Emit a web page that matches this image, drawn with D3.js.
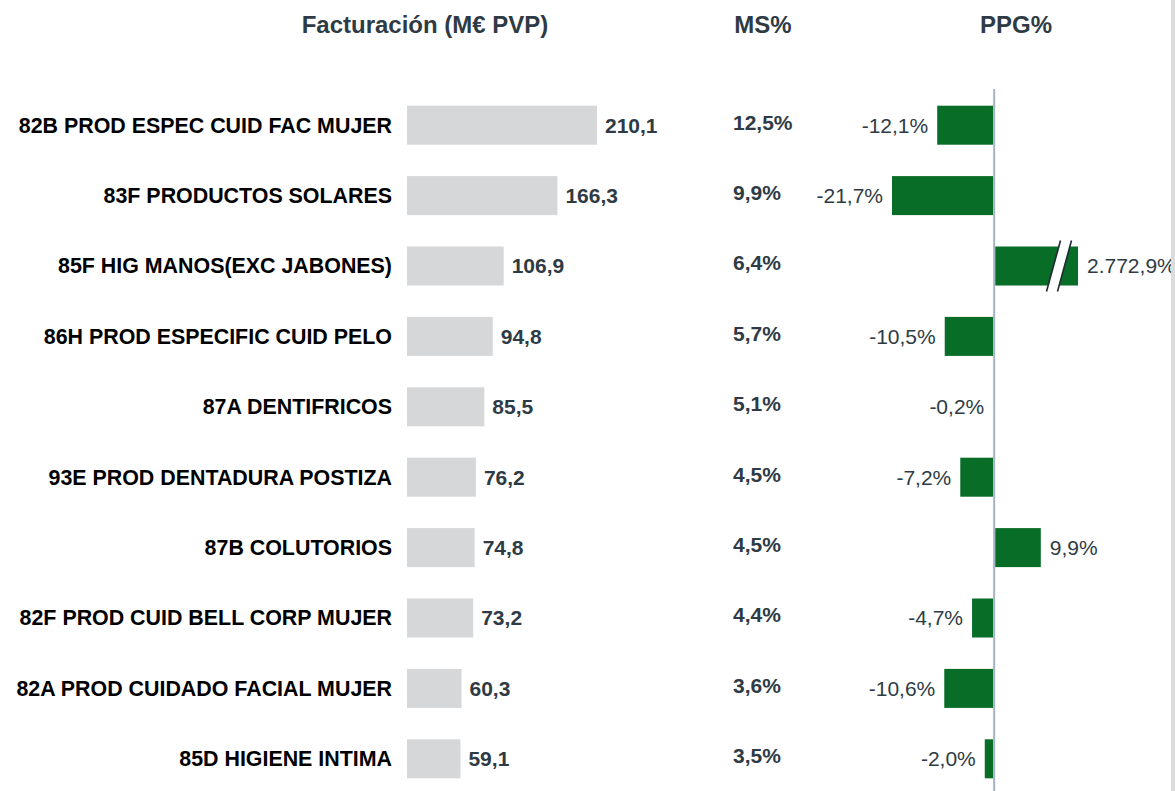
<!DOCTYPE html>
<html>
<head>
<meta charset="utf-8">
<script src="https://cdn.jsdelivr.net/npm/d3@7/dist/d3.min.js"></script>
<style>
  html, body { margin: 0; padding: 0; background: #fff; }
  svg { display: block; }
  text { font-family: "Liberation Sans", Arial, sans-serif; }
</style>
</head>
<body>
<svg id="chart" width="1175" height="791"></svg>
<script>
// Top categories: turnover (M€ PVP), market share and growth vs previous period
const categories = [
  "82B PROD ESPEC CUID FAC MUJER",
  "83F PRODUCTOS SOLARES",
  "85F HIG MANOS(EXC JABONES)",
  "86H PROD ESPECIFIC CUID PELO",
  "87A DENTIFRICOS",
  "93E PROD DENTADURA POSTIZA",
  "87B COLUTORIOS",
  "82F PROD CUID BELL CORP MUJER",
  "82A PROD CUIDADO FACIAL MUJER",
  "85D HIGIENE INTIMA"
];
const facturacion = [210.1, 166.3, 106.9, 94.8, 85.5, 76.2, 74.8, 73.2, 60.3, 59.1];
const msShare = [12.5, 9.9, 6.4, 5.7, 5.1, 4.5, 4.5, 4.4, 3.6, 3.5];
const ppg = [-12.1, -21.7, 2772.9, -10.5, -0.2, -7.2, 9.9, -4.7, -10.6, -2.0];
const headers = ["Facturación (M€ PVP)", "MS%", "PPG%"];

// Growth bars beyond this value are cut and drawn with a break mark
const ppgCap = 17.8;

const locale = d3.formatLocale({ decimal: ",", thousands: ".", grouping: [3], currency: ["", "€"], minus: "-" });
const fmt1 = locale.format(",.1f");
const pct = v => fmt1(v) + "%";

const svg = d3.select("#chart");
const textDark = "#2e3b45";

// Row layout
const y = d3.scaleBand()
  .domain(categories)
  .range([90, 794])
  .paddingInner(0.446)
  .paddingOuter(0.223);
const bh = y.bandwidth();
const cy = c => y(c) + bh / 2;

// Turnover scale
const xF = d3.scaleLinear().domain([0, d3.max(facturacion)]).range([407, 597]);

// Growth scale (clamped: the outlier is drawn as a broken bar)
const xP = d3.scaleLinear().domain([d3.min(ppg), ppgCap]).range([892, 1078]).clamp(true);

// Column headers
svg.selectAll("text.header")
  .data(headers)
  .join("text")
  .attr("class", "header")
  .attr("x", (d, i) => [425, 763, 1016][i])
  .attr("y", 33)
  .attr("text-anchor", "middle")
  .attr("font-size", 24)
  .attr("font-weight", "bold")
  .attr("fill", textDark)
  .text(d => d);

// Category names
svg.selectAll("text.cat")
  .data(categories)
  .join("text")
  .attr("class", "cat")
  .attr("x", 392)
  .attr("y", d => cy(d))
  .attr("dy", "0.35em")
  .attr("text-anchor", "end")
  .attr("font-size", 21.4)
  .attr("font-weight", "bold")
  .attr("fill", "#000")
  .text(d => d);

// Turnover bars and values
svg.selectAll("rect.fact")
  .data(facturacion)
  .join("rect")
  .attr("class", "fact")
  .attr("x", xF(0))
  .attr("y", (d, i) => y(categories[i]))
  .attr("width", d => xF(d) - xF(0))
  .attr("height", bh)
  .attr("fill", "#d6d7d9");

svg.selectAll("text.fact")
  .data(facturacion)
  .join("text")
  .attr("class", "fact")
  .attr("x", d => xF(d) + 8)
  .attr("y", (d, i) => cy(categories[i]))
  .attr("dy", "0.35em")
  .attr("font-size", 21)
  .attr("font-weight", "bold")
  .attr("fill", textDark)
  .text(d => fmt1(d));

// Market share column
svg.selectAll("text.ms")
  .data(msShare)
  .join("text")
  .attr("class", "ms")
  .attr("x", 733)
  .attr("y", (d, i) => cy(categories[i]) - 3)
  .attr("dy", "0.35em")
  .attr("font-size", 21)
  .attr("font-weight", "bold")
  .attr("fill", textDark)
  .text(d => pct(d));

// Growth bars
const x0 = xP(0);
svg.selectAll("rect.ppg")
  .data(ppg)
  .join("rect")
  .attr("class", "ppg")
  .attr("x", d => d < 0 ? xP(d) : x0 + 1)
  .attr("y", (d, i) => y(categories[i]))
  .attr("width", d => d < 0 ? x0 - 1 - xP(d) : xP(d) - x0 - 1)
  .attr("height", bh)
  .attr("fill", "#086d27");

// Break marks on bars exceeding the cap
ppg.forEach((d, i) => {
  if (d <= ppgCap) return;
  const top = y(categories[i]) - 6;
  const bot = y(categories[i]) + bh + 6;
  const xc = xP(d) - 19;
  const half = 7;   // horizontal lean of each stroke
  const gap = 5.5;  // half-distance between the two strokes
  const g = svg.append("g");
  g.append("polygon")
    .attr("points", [
      [xc - gap - half, bot], [xc - gap + half, top],
      [xc + gap + half, top], [xc + gap - half, bot]
    ].map(p => p.join(",")).join(" "))
    .attr("fill", "#fff");
  [-gap, gap].forEach(o => {
    g.append("line")
      .attr("x1", xc + o - half).attr("y1", bot)
      .attr("x2", xc + o + half).attr("y2", top)
      .attr("stroke", "#1f2a33")
      .attr("stroke-width", 1.6);
  });
});

// Growth labels
svg.selectAll("text.ppg")
  .data(ppg)
  .join("text")
  .attr("class", "ppg")
  .attr("x", d => d < 0 ? xP(d) - 9 : xP(d) + 9)
  .attr("y", (d, i) => cy(categories[i]))
  .attr("dy", "0.35em")
  .attr("text-anchor", d => d < 0 ? "end" : "start")
  .attr("font-size", 21)
  .attr("fill", textDark)
  .text(d => pct(d));

// Zero line of the growth column
svg.append("line")
  .attr("x1", x0).attr("x2", x0)
  .attr("y1", 89).attr("y2", 791)
  .attr("stroke", "#a3b5c4")
  .attr("stroke-width", 2);

// Right frame edge
svg.append("rect")
  .attr("x", 1171).attr("y", 0)
  .attr("width", 4).attr("height", 791)
  .attr("fill", "#dcdcdc");
</script>
</body>
</html>
